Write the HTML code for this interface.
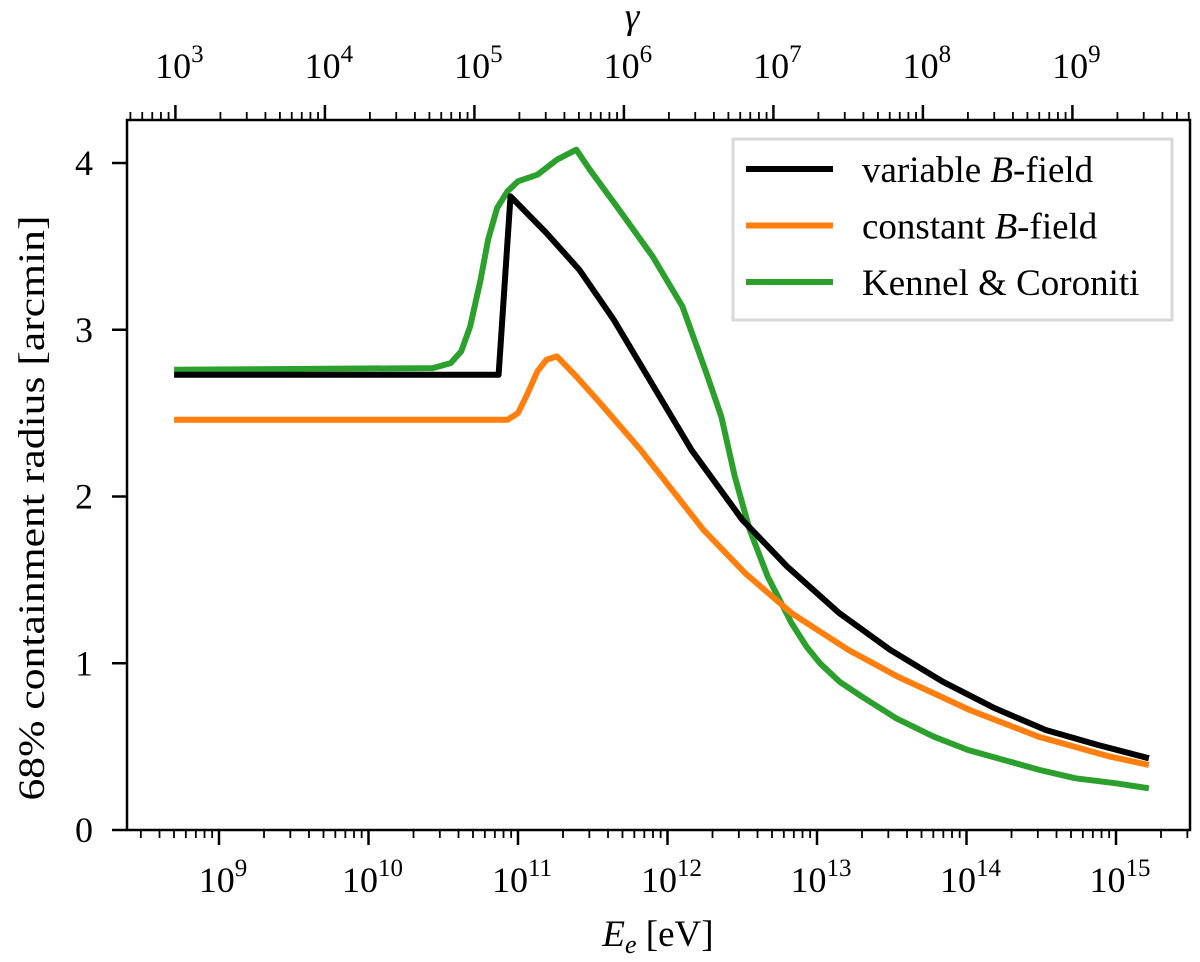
<!DOCTYPE html>
<html><head><meta charset="utf-8"><style>
body{margin:0;background:#fff}
svg text{font-family:"Liberation Serif",serif;fill:#000}
</style></head><body>
<svg id="chart" width="1200" height="957" xmlns="http://www.w3.org/2000/svg">
<g id="marks"></g>
</svg>
<script>
const blackLogE=[8.7,10.87,10.95,11.19,11.41,11.64,11.88,12.16,12.50,12.80,13.15,13.49,13.84,14.19,14.53,14.88,15.22];
const blackVal=[2.73,2.73,3.80,3.58,3.36,3.06,2.70,2.28,1.86,1.58,1.30,1.08,0.89,0.73,0.60,0.51,0.43];
const orangeLogE=[8.7,10.93,11.00,11.06,11.13,11.19,11.26,11.39,11.55,11.82,12.24,12.52,12.83,13.21,13.54,14.02,14.48,14.96,15.22];
const orangeVal=[2.46,2.46,2.50,2.61,2.75,2.82,2.84,2.72,2.56,2.28,1.80,1.54,1.30,1.08,0.92,0.72,0.56,0.44,0.39];
const greenLogE=[8.7,10.43,10.55,10.62,10.68,10.75,10.80,10.86,10.93,11.00,11.13,11.26,11.39,11.48,11.66,11.90,12.10,12.26,12.36,12.45,12.55,12.67,12.83,12.93,13.02,13.15,13.30,13.53,13.78,14.01,14.25,14.49,14.73,15.00,15.22];
const greenVal=[2.76,2.77,2.80,2.87,3.02,3.30,3.54,3.73,3.83,3.89,3.93,4.02,4.08,3.96,3.74,3.44,3.14,2.74,2.48,2.12,1.80,1.52,1.24,1.10,1.00,0.89,0.80,0.67,0.56,0.48,0.42,0.36,0.31,0.28,0.25];
const xTickExp=[9,10,11,12,13,14,15];
const gTickExp=[3,4,5,6,7,8,9];
const yTicks=[0,1,2,3,4];
const seriesNames=["variable ","constant ","Kennel & Coroniti"];

const L=127,R=1190,T=120,B=830;
const NS="http://www.w3.org/2000/svg";
const x=le=>219+(le-9)*149.5;
const xg=lg=>x(lg+Math.log10(511e3));
const y=v=>830-v*166.75;
const g=document.getElementById('marks');
function mk(t,a,p){const e=document.createElementNS(NS,t);for(const k in a)e.setAttribute(k,a[k]);(p||g).appendChild(e);return e;}
const lmin=(L-219)/149.5+9,lmax=(R-219)/149.5+9;
for(let d=8;d<=15;d++){for(let m=1;m<10;m++){const le=d+Math.log10(m);if(le<lmin||le>lmax)continue;const len=m==1?15:8;
 const t=mk('line',{x1:x(le),x2:x(le),y1:B,y2:B+len,stroke:'#000','stroke-width':m==1?2.5:1.8});
 
 }}
const off=Math.log10(511e3);
for(let d=2;d<=10;d++){for(let m=1;m<10;m++){const le=d+Math.log10(m)+off;if(le<lmin||le>lmax)continue;const len=m==1?15:8;
 const t=mk('line',{x1:x(le),x2:x(le),y1:T,y2:T-len,stroke:'#000','stroke-width':m==1?2.5:1.8});
 
 }}
xTickExp.forEach(e=>{const t=mk('text',{x:x(e)+4,y:892,'font-size':36,'text-anchor':'middle'});
 
 
 t.innerHTML='10<tspan font-size="25" dy="-16">'+e+'</tspan>';});
gTickExp.forEach(e=>{const t=mk('text',{x:xg(e)+4,y:78,'font-size':36,'text-anchor':'middle'});
 
 
 t.innerHTML='10<tspan font-size="25" dy="-16">'+e+'</tspan>';});
yTicks.forEach(v=>{const l=mk('line',{x1:L,x2:L-15,y1:y(v),y2:y(v),stroke:'#000','stroke-width':2.5});
 
 
 const t=mk('text',{x:93,y:y(v)+12,'font-size':36,'text-anchor':'end'});
 
 
 t.textContent=v;});
function line(le,vals,col,name){const d=le.map((v,i)=>(i?'L':'M')+x(v).toFixed(1)+','+y(vals[i]).toFixed(1)).join('');
 const p=mk('path',{d:d,fill:'none',stroke:col,'stroke-width':6,'stroke-linejoin':'round'});
 
 }
line(greenLogE,greenVal,'#2ca02c','kennel-coroniti-line');
line(orangeLogE,orangeVal,'#ff7f0e','constant-b-line');
line(blackLogE,blackVal,'#000','variable-b-line');
const fr=mk('rect',{x:L,y:T,width:R-L,height:B-T,fill:'none',stroke:'#000','stroke-width':2.5});


const lg=mk('g',{});


mk('rect',{x:733,y:139,width:439,height:181,fill:'#fff',stroke:'#d9d9d9','stroke-width':3},lg);
const cols=['#000','#ff7f0e','#2ca02c'];
seriesNames.forEach((n,i)=>{const yy=169+i*56.5;
 const e=mk('g',{},lg);
 
 
 mk('line',{x1:746,x2:833,y1:yy,y2:yy,stroke:cols[i],'stroke-width':6},e);
 const t=mk('text',{x:862,y:yy+13,'font-size':37},e);
 t.innerHTML=i<2?n+'<tspan font-style="italic">B</tspan>-field':n;});
const xl=mk('text',{x:658,y:946,'font-size':37,'text-anchor':'middle'});


xl.innerHTML='<tspan font-style="italic">E</tspan><tspan font-style="italic" font-size="26" dy="7">e</tspan><tspan dy="-7"> [eV]</tspan>';
const gl=mk('text',{x:632,y:28,'font-size':37,'text-anchor':'middle','font-style':'italic'});


gl.textContent='γ';
const yl=mk('text',{x:0,y:0,'font-size':37,'text-anchor':'middle',textLength:585,lengthAdjust:'spacingAndGlyphs',transform:'translate(44,508) rotate(-90)'});


yl.textContent='68% containment radius [arcmin]';
</script>
</body></html>
